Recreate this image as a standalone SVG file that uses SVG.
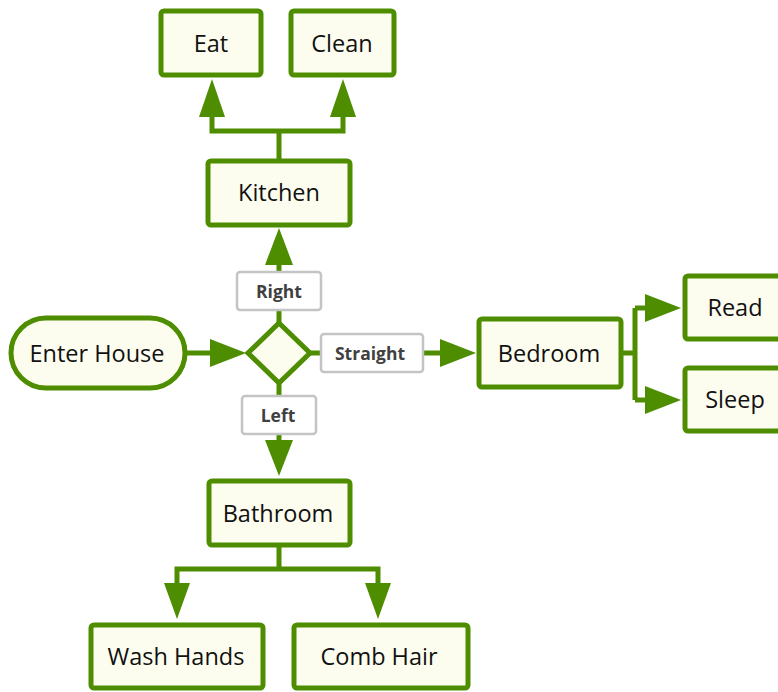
<svg xmlns="http://www.w3.org/2000/svg" width="778" height="692" viewBox="0 0 778 692">
<defs>
<style>
.box{fill:#fdfdef;stroke:#4e8d00;stroke-width:5}
.t{font-family:"Open Sans","Noto Sans",sans-serif;font-size:23.5px;fill:#111;text-anchor:middle;dominant-baseline:central}
.lbl{fill:#fff;stroke:#c4c4c4;stroke-width:2.5}
.lt{font-family:"Open Sans","Noto Sans",sans-serif;font-size:17.5px;font-weight:bold;fill:#404040;text-anchor:middle;dominant-baseline:central}
.c{fill:none;stroke:#4e8d00;stroke-width:5}
.ah{fill:#4e8d00}
</style>
</defs>
<g id="connectors">
<path class="c" d="M279 161V131H212V112M279 131H343V112"/>
<polygon class="ah" points="212,79 199,117 225,117"/>
<polygon class="ah" points="343,79 330,117 356,117"/>
<path class="c" d="M187 353H215"/>
<polygon class="ah" points="246,353 210,339 210,367"/>
<path class="c" d="M279 323V305"/>
<path class="c" d="M279 271V260"/>
<polygon class="ah" points="279,228 265,265 293,265"/>
<path class="c" d="M310 353H322"/>
<path class="c" d="M423 353H445"/>
<polygon class="ah" points="476,353 440,339 440,367"/>
<path class="c" d="M279 383V396"/>
<path class="c" d="M279 434V445"/>
<polygon class="ah" points="279,476 265,440 293,440"/>
<path class="c" d="M623 353H635M635 308V400M635 308H650M635 400H650"/>
<polygon class="ah" points="681,308 645,294 645,322"/>
<polygon class="ah" points="681,400 645,386 645,414"/>
<path class="c" d="M279 547V569H177V588M279 569H378V588"/>
<polygon class="ah" points="177,619 164,583 190,583"/>
<polygon class="ah" points="378,619 365,583 391,583"/>
</g>
<g id="eat"><rect class="box" x="161" y="11" width="100" height="64" rx="3"/><text class="t" x="211" y="43">Eat</text></g>
<g id="clean"><rect class="box" x="291" y="11" width="103" height="64" rx="3"/><text class="t" x="342" y="43">Clean</text></g>
<g id="kitchen"><rect class="box" x="208" y="161" width="142" height="64" rx="3"/><text class="t" x="279" y="192">Kitchen</text></g>
<g id="enter"><rect class="box" x="11" y="318" width="174" height="70" rx="35"/><text class="t" x="97" y="353">Enter House</text></g>
<g id="decision"><polygon class="box" points="279,323 310,353 279,383 248,353"/></g>
<g id="lbl-right"><rect class="lbl" x="237" y="272" width="84" height="38" rx="3"/><text class="lt" x="279" y="291">Right</text></g>
<g id="lbl-straight"><rect class="lbl" x="321" y="334" width="102" height="38" rx="3"/><text class="lt" x="370" y="353">Straight</text></g>
<g id="lbl-left"><rect class="lbl" x="242" y="396" width="74" height="38" rx="3"/><text class="lt" x="278" y="415">Left</text></g>
<g id="bedroom"><rect class="box" x="479" y="319" width="142" height="68" rx="3"/><text class="t" x="549" y="353">Bedroom</text></g>
<g id="read"><rect class="box" x="685" y="276" width="100" height="63" rx="3"/><text class="t" x="735" y="307">Read</text></g>
<g id="sleep"><rect class="box" x="685" y="368" width="100" height="63" rx="3"/><text class="t" x="735" y="399">Sleep</text></g>
<g id="bathroom"><rect class="box" x="209" y="481" width="141" height="64" rx="3"/><text class="t" x="278" y="513">Bathroom</text></g>
<g id="wash"><rect class="box" x="91" y="625" width="172" height="63" rx="3"/><text class="t" x="176" y="656">Wash Hands</text></g>
<g id="comb"><rect class="box" x="294" y="625" width="174" height="63" rx="3"/><text class="t" x="379" y="656">Comb Hair</text></g>
</svg>
